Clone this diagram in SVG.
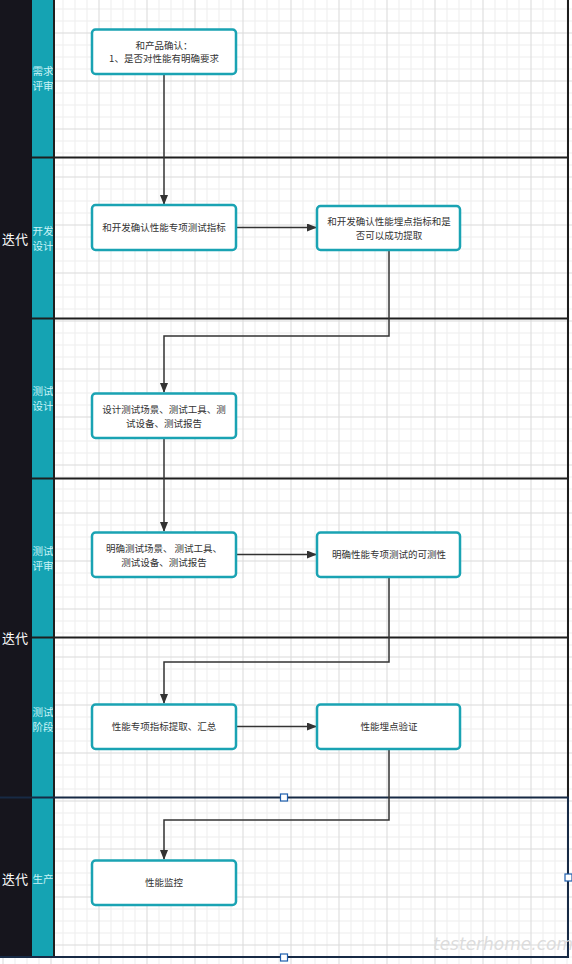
<svg xmlns="http://www.w3.org/2000/svg" width="572" height="964" viewBox="0 0 572 964">
<defs>
<pattern id="grid" patternUnits="userSpaceOnUse" x="2.5" y="-15.5" width="48" height="48">
<rect width="48" height="48" fill="#ffffff"/>
<rect x="12" y="0" width="1" height="48" fill="#ededed"/>
<rect x="24" y="0" width="1" height="48" fill="#ededed"/>
<rect x="36" y="0" width="1" height="48" fill="#ededed"/>
<rect x="0" y="12" width="48" height="1" fill="#ededed"/>
<rect x="0" y="24" width="48" height="1" fill="#ededed"/>
<rect x="0" y="36" width="48" height="1" fill="#ededed"/>
<rect x="0" y="0" width="1" height="48" fill="#d9d9d9"/>
<rect x="0" y="0" width="48" height="1" fill="#d9d9d9"/>
</pattern>
<marker id="arr" markerWidth="10" markerHeight="8" refX="9" refY="4" orient="auto" markerUnits="userSpaceOnUse">
<path d="M0,0 L10,4 L0,8 Z" fill="#333333"/>
</marker>
<style>
.box{fill:#ffffff;stroke:#1aa3b3;stroke-width:2.5}
.bt{font-family:"Noto Sans CJK SC","Noto Sans",sans-serif;font-size:9.5px;fill:#333333;text-anchor:middle}
.lane{font-family:"Noto Sans CJK SC","Noto Sans",sans-serif;font-size:10.5px;fill:#c9f3f7;text-anchor:middle}
.pool{font-family:"Noto Sans CJK SC","Noto Sans",sans-serif;font-size:13px;fill:#ffffff;text-anchor:middle}
.div{stroke:#1e1e1e;stroke-width:2;fill:none}
.con{stroke:#333333;stroke-width:1.5;fill:none}
.h{fill:#ffffff;stroke:#1f5fae;stroke-width:1.2}
</style>
</defs>
<rect x="0" y="0" width="572" height="964" fill="url(#grid)"/>
<g id="pool">
<rect x="0" y="0" width="32" height="957" fill="#16151d"/>
<rect x="32" y="0" width="22" height="957" fill="#15a3b3"/>
<text class="pool" x="15" y="244">迭代</text>
<text class="pool" x="15" y="643">迭代</text>
<text class="pool" x="15" y="884">迭代</text>
</g>
<g id="lanes">
<text class="lane" x="43" y="75">需求</text>
<text class="lane" x="43" y="90">评审</text>
<text class="lane" x="43" y="235">开发</text>
<text class="lane" x="43" y="250">设计</text>
<text class="lane" x="43" y="395">测试</text>
<text class="lane" x="43" y="410">设计</text>
<text class="lane" x="43" y="555">测试</text>
<text class="lane" x="43" y="570">评审</text>
<text class="lane" x="43" y="716">测试</text>
<text class="lane" x="43" y="731">阶段</text>
<text class="lane" x="43" y="883">生产</text>
<line class="div" x1="54" y1="0" x2="54" y2="957"/>
<line class="div" x1="32" y1="157.5" x2="568" y2="157.5"/>
<line class="div" x1="32" y1="318.5" x2="568" y2="318.5"/>
<line class="div" x1="32" y1="478.5" x2="568" y2="478.5"/>
<line class="div" x1="32" y1="637.5" x2="568" y2="637.5"/>
<line class="div" x1="568" y1="0" x2="568" y2="797"/>
<path d="M0,797.5 H568 V957 H0" fill="none" stroke="#172a45" stroke-width="2"/>
</g>
<g id="connectors">
<line class="con" x1="164" y1="74" x2="164" y2="204" marker-end="url(#arr)"/>
<line class="con" x1="236" y1="227.5" x2="316" y2="227.5" marker-end="url(#arr)"/>
<path class="con" d="M389,250 V336 H164 V392" marker-end="url(#arr)"/>
<line class="con" x1="164" y1="438" x2="164" y2="531" marker-end="url(#arr)"/>
<line class="con" x1="236" y1="554.5" x2="316" y2="554.5" marker-end="url(#arr)"/>
<path class="con" d="M389,577 V662 H164 V703" marker-end="url(#arr)"/>
<line class="con" x1="236" y1="726.5" x2="316" y2="726.5" marker-end="url(#arr)"/>
<path class="con" d="M389,749 V820 H164 V859" marker-end="url(#arr)"/>
</g>
<g id="n1"><rect class="box" x="92" y="29.5" width="144" height="44.5" rx="3.5"/><text class="bt" x="164" y="48.5">和产品确认：</text><text class="bt" x="164" y="62">1、是否对性能有明确要求</text></g>
<g id="n2"><rect class="box" x="92" y="205" width="144" height="45" rx="3.5"/><text class="bt" x="164" y="231">和开发确认性能专项测试指标</text></g>
<g id="n3"><rect class="box" x="317" y="206" width="143" height="44" rx="3.5"/><text class="bt" x="389" y="225">和开发确认性能埋点指标和是</text><text class="bt" x="389" y="238.5">否可以成功提取</text></g>
<g id="n4"><rect class="box" x="92" y="393.5" width="144" height="44.5" rx="3.5"/><text class="bt" x="164" y="413">设计测试场景、测试工具、测</text><text class="bt" x="164" y="426.5">试设备、测试报告</text></g>
<g id="n5"><rect class="box" x="92" y="532.5" width="144" height="44.5" rx="3.5"/><text class="bt" x="164" y="552">明确测试场景、 测试工具、</text><text class="bt" x="164" y="565.5">测试设备、测试报告</text></g>
<g id="n6"><rect class="box" x="317" y="532.5" width="143" height="44.5" rx="3.5"/><text class="bt" x="389" y="558">明确性能专项测试的可测性</text></g>
<g id="n7"><rect class="box" x="92" y="704.5" width="144" height="44.5" rx="3.5"/><text class="bt" x="164" y="730">性能专项指标提取、汇总</text></g>
<g id="n8"><rect class="box" x="317" y="704.5" width="143" height="44.5" rx="3.5"/><text class="bt" x="389" y="730">性能埋点验证</text></g>
<g id="n9"><rect class="box" x="92" y="860.5" width="144" height="44.5" rx="3.5"/><text class="bt" x="164" y="886">性能监控</text></g>
<g id="handles">
<rect class="h" x="280.5" y="794" width="7" height="7"/>
<rect class="h" x="565" y="874" width="7" height="7"/>
<rect class="h" x="280.5" y="954" width="7" height="7"/>
</g>
<text x="503" y="950" font-family="DejaVu Sans, sans-serif" font-size="17" font-style="italic" fill="#dcdcdc" text-anchor="middle">testerhome.com</text>
</svg>
